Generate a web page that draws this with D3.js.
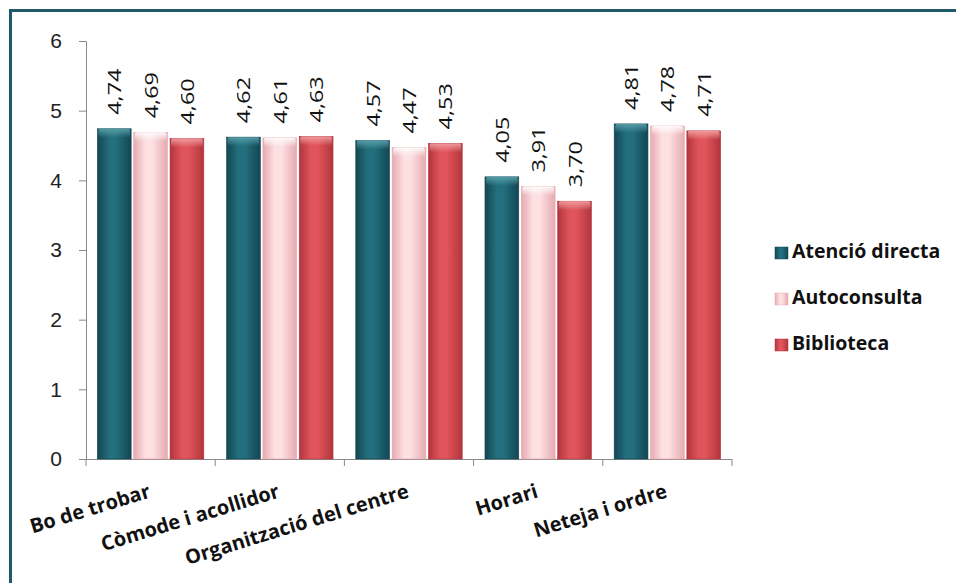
<!DOCTYPE html>
<html><head><meta charset="utf-8">
<script src="https://cdn.jsdelivr.net/npm/d3@7"></script>
<style>body{margin:0;background:#fff;}svg{display:block;font-family:"Open Sans","DejaVu Sans",sans-serif;}</style>
</head><body>
<svg id="c" width="956" height="583"></svg>
<script>
const categories = ["Bo de trobar","Còmode i acollidor","Organització del centre","Horari","Neteja i ordre"];
const seriesNames = ["Atenció directa","Autoconsulta","Biblioteca"];
const atencio = [4.74,4.62,4.57,4.05,4.81];
const autoconsulta = [4.69,4.61,4.47,3.91,4.78];
const biblioteca = [4.60,4.63,4.53,3.70,4.71];
const yTicks = [0,1,2,3,4,5,6];
const seriesValues = [atencio, autoconsulta, biblioteca];
const colors = [
  {edge:"#134653", mid:"#236f7d", top:"#5aa3ad"},
  {edge:"#e6aab0", mid:"#fce0e2", top:"#ffffff"},
  {edge:"#b2343c", mid:"#e0555b", top:"#f3a3a5"}
];

const svg = d3.select("#c");
const defs = svg.append("defs");
colors.forEach((c,i)=>{
  const g = defs.append("linearGradient").attr("id","g"+i).attr("x1","0").attr("x2","1").attr("y1","0").attr("y2","0");
  g.append("stop").attr("offset","0%").attr("stop-color",c.edge);
  g.append("stop").attr("offset","35%").attr("stop-color",c.mid);
  g.append("stop").attr("offset","55%").attr("stop-color",c.mid);
  g.append("stop").attr("offset","100%").attr("stop-color",c.edge);
  const t = defs.append("linearGradient").attr("id","t"+i).attr("x1","0").attr("x2","0").attr("y1","0").attr("y2","1");
  t.append("stop").attr("offset","0%").attr("stop-color",c.top).attr("stop-opacity",0.9);
  t.append("stop").attr("offset","100%").attr("stop-color",c.top).attr("stop-opacity",0);
});

// frame
svg.append("path").attr("d","M10.5,600 V10.5 H960").attr("fill","none").attr("stroke","#1f5a6c").attr("stroke-width",3);

const x0 = d3.scaleBand().domain(categories).range([86,732]).paddingInner(0.176).paddingOuter(0.088);
const x1 = d3.scaleBand().domain(d3.range(3)).range([0,x0.bandwidth()]).paddingInner(0.07);
const y = d3.scaleLinear().domain([0,6]).range([459,41]);

// axes
const yAxis = svg.append("g").attr("transform","translate(86,0)")
  .call(d3.axisLeft(y).tickValues(yTicks).tickSize(7).tickPadding(17).tickFormat(d3.format("d")));
yAxis.select(".domain").attr("stroke","#8a8a8a").attr("d","M-7,41.5H0.5V459.5H-7");
yAxis.selectAll(".tick line").attr("stroke","#8a8a8a");
yAxis.selectAll(".tick text").attr("font-size",21).attr("fill","#222");

const xEdges = d3.range(categories.length+1).map(i=>86 + i*(732-86)/categories.length);
svg.append("line").attr("x1",86).attr("x2",732).attr("y1",459.5).attr("y2",459.5).attr("stroke","#8a8a8a");
svg.selectAll(".xt").data(xEdges).join("line").attr("x1",d=>d).attr("x2",d=>d).attr("y1",459).attr("y2",466).attr("stroke","#8a8a8a");

// bars
const groups = svg.selectAll(".grp").data(categories).join("g").attr("transform",d=>`translate(${x0(d)},0)`);
groups.each(function(cat,ci){
  const g = d3.select(this);
  seriesValues.forEach((vals,si)=>{
    const v = vals[ci];
    const bx = x1(si), bw = x1.bandwidth();
    g.append("rect").attr("x",bx).attr("y",y(v)).attr("width",bw).attr("height",y(0)-y(v))
      .attr("fill",`url(#g${si})`).attr("stroke",colors[si].edge).attr("stroke-width",0.6);
    g.append("rect").attr("x",bx+1).attr("y",y(v)).attr("width",bw-2).attr("height",9)
      .attr("fill",`url(#t${si})`).attr("rx",2);
    g.append("text")
      .attr("transform",`translate(${bx+bw/2+7},${y(v)-14}) rotate(-90) scale(1.3,1)`)
      .attr("font-size",18).attr("fill","#111").attr("text-anchor","start")
      .text(d3.format(".2f")(v).replace(".",","));
  });
});

// x labels
svg.selectAll(".xl").data(categories).join("text")
  .attr("transform",d=>`translate(${x0(d)+x0.bandwidth()/2+1},${497}) rotate(-17)`)
  .attr("text-anchor","end").attr("font-size",20).attr("font-weight","bold").attr("fill","#111")
  .text(d=>d);

// legend
const lg = svg.append("g").attr("transform","translate(775,258)");
seriesNames.forEach((n,i)=>{
  const r = lg.append("g").attr("transform",`translate(0,${i*46})`);
  r.append("rect").attr("x",0).attr("y",-11).attr("width",13).attr("height",12).attr("fill",`url(#g${i})`).attr("stroke",colors[i].edge).attr("stroke-width",0.5);
  r.append("text").attr("x",17).attr("y",0).attr("font-size",19.5).attr("font-weight","bold").attr("fill","#111").text(n);
});
</script>
</body></html>
